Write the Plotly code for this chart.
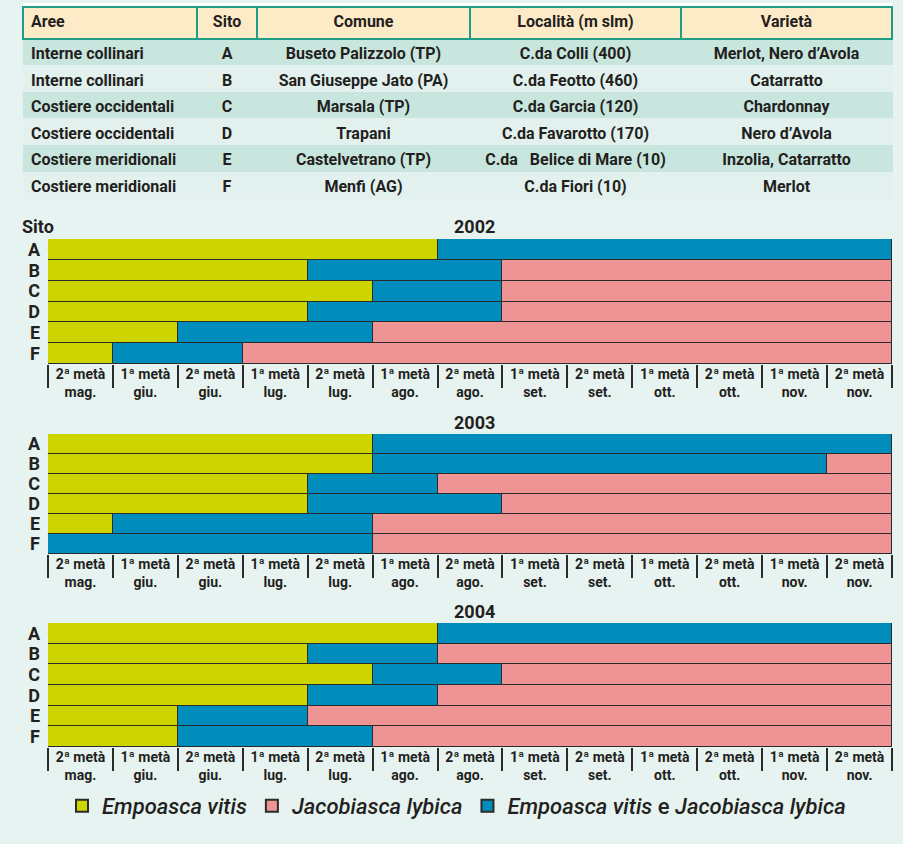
import plotly.graph_objects as go

W, H = 903, 844

# ---------------- table data ----------------
tbl_header = ["Aree", "Sito", "Comune", "Località (m slm)", "Varietà"]
tbl_aree = ["Interne collinari", "Interne collinari", "Costiere occidentali",
            "Costiere occidentali", "Costiere meridionali", "Costiere meridionali"]
tbl_sito = ["A", "B", "C", "D", "E", "F"]
tbl_comune = ["Buseto Palizzolo (TP)", "San Giuseppe Jato (PA)", "Marsala (TP)",
              "Trapani", "Castelvetrano (TP)", "Menfi (AG)"]
tbl_localita = ["C.da Colli (400)", "C.da Feotto (460)", "C.da Garcia (120)",
                "C.da Favarotto (170)", "C.da   Belice di Mare (10)", "C.da Fiori (10)"]
tbl_varieta = ["Merlot, Nero d’Avola", "Catarratto", "Chardonnay",
               "Nero d’Avola", "Inzolia, Catarratto", "Merlot"]

# ---------------- chart data ----------------
sites = ["A", "B", "C", "D", "E", "F"]
period_labels = ["2ª metà<br>mag.", "1ª metà<br>giu.", "2ª metà<br>giu.",
                 "1ª metà<br>lug.", "2ª metà<br>lug.", "1ª metà<br>ago.",
                 "2ª metà<br>ago.", "1ª metà<br>set.", "2ª metà<br>set.",
                 "1ª metà<br>ott.", "2ª metà<br>ott.", "1ª metà<br>nov.",
                 "2ª metà<br>nov."]
years = ["2002", "2003", "2004"]
# durations (in half-month periods) of each phase, sites A..F
green_2002 = [6, 4, 5, 4, 2, 1]
blue_2002 = [7, 3, 2, 3, 3, 2]
pink_2002 = [0, 6, 6, 6, 8, 10]
green_2003 = [5, 5, 4, 4, 1, 0]
blue_2003 = [8, 7, 2, 3, 4, 5]
pink_2003 = [0, 1, 7, 6, 8, 8]
green_2004 = [6, 4, 5, 4, 2, 2]
blue_2004 = [7, 2, 2, 2, 2, 3]
pink_2004 = [0, 7, 6, 7, 9, 8]

series_names = ["<i>Empoasca vitis</i>", "<i>Jacobiasca lybica</i>",
                "<i>Empoasca vitis</i> e <i>Jacobiasca lybica</i>"]

GREEN, PINK, BLUE = "#CCD500", "#EF9494", "#008DBB"
BG = "#E6F3F0"
DARK = "#231F20"
FONT = "Roboto"

fig = go.Figure()

# ---------------- table ----------------
row_fills = ["#C8E6DE", "#E2F1EE"] * 3
fig.add_trace(go.Table(
    domain=dict(x=[23 / W, 892 / W], y=[1 - 204 / H, 1 - 7 / H]),
    columnwidth=[174, 60, 213, 211, 211],
    header=dict(values=tbl_header,
                fill_color="#FDEBC8",
                line=dict(color="#1E9C86", width=2),
                align=["left", "center", "center", "center", "center"],
                font=dict(family=FONT, size=16, color=DARK, weight="bold"),
                height=32),
    cells=dict(values=[tbl_aree, tbl_sito, tbl_comune, tbl_localita, tbl_varieta],
               fill_color=[row_fills] * 5,
               line=dict(color=[row_fills] * 5, width=1),
               align=["left", "center", "center", "center", "center"],
               font=dict(family=FONT, size=16, color=DARK, weight="bold"),
               height=26.6),
))

# ---------------- bars ----------------
data = {
    "2002": (green_2002, blue_2002, pink_2002),
    "2003": (green_2003, blue_2003, pink_2003),
    "2004": (green_2004, blue_2004, pink_2004),
}
domains_px = {"2002": (239, 364), "2003": (434, 554), "2004": (623, 747)}
colors = [GREEN, BLUE, PINK]
legend_rank = [1, 3, 2]

for i, yr in enumerate(years):
    ax = "" if i == 0 else str(i + 1)
    for k, vals in enumerate(data[yr]):
        name = series_names[[0, 2, 1][k]]
        fig.add_trace(go.Bar(
            y=sites, x=[v if v > 0 else None for v in vals],
            orientation="h", name=name,
            marker=dict(color=colors[k], line=dict(color="#2B2B2B", width=1.5)),
            xaxis="x" + ax, yaxis="y" + ax,
            showlegend=(i == 0), legendrank=legend_rank[k],
            hoverinfo="skip",
        ))
    top, bot = domains_px[yr]
    fig.layout["xaxis" + ax] = dict(
        domain=[48 / W, 892 / W], range=[0, 13], anchor="y" + ax,
        tickmode="array", tickvals=[j + 0.5 for j in range(13)],
        ticktext=period_labels, ticks="", showgrid=False, zeroline=False,
        showline=False, fixedrange=True, automargin=False,
        tickfont=dict(family=FONT, size=14, color=DARK, weight="bold"),
        minor=dict(tickmode="array", tickvals=list(range(14)), ticks="outside",
                   ticklen=23, tickwidth=1.5, tickcolor="#2B2B2B", showgrid=False),
    )
    fig.layout["yaxis" + ax] = dict(
        domain=[1 - bot / H, 1 - top / H], anchor="x" + ax,
        categoryorder="array", categoryarray=sites, autorange="reversed",
        tickmode="array", tickvals=sites, ticktext=sites,
        showgrid=False, zeroline=False, showline=False, ticks="",
        ticklabelstandoff=7, fixedrange=True, automargin=False,
        tickfont=dict(family=FONT, size=18, color=DARK, weight="bold"),
    )
    fig.add_annotation(text=yr, xref="paper", yref="paper",
                       x=474 / W, y=1 - (top - 12) / H, showarrow=False,
                       xanchor="center", yanchor="middle",
                       font=dict(family=FONT, size=18, color=DARK, weight="bold"))

fig.add_annotation(text="Sito", xref="paper", yref="paper", x=20 / W,
                   y=1 - 227 / H, xanchor="left", yanchor="middle", showarrow=False,
                   font=dict(family=FONT, size=18, color=DARK, weight="bold"))

fig.add_shape(type="rect", xref="paper", yref="paper", x0=23 / W, x1=892 / W,
              y0=1 - 8 / H, y1=1 - 3 / H, fillcolor="white", line_width=0,
              layer="below")

fig.update_layout(
    width=W, height=H, margin=dict(l=0, r=0, t=0, b=0),
    paper_bgcolor=BG, plot_bgcolor=BG,
    barmode="stack", bargap=0,
    legend=dict(orientation="h", x=62 / W, y=1 - 806 / H, yanchor="middle",
                xanchor="left", bgcolor="rgba(0,0,0,0)",
                font=dict(family=FONT, size=22, color=DARK, weight=500),
                itemsizing="constant", traceorder="normal", itemwidth=30),
    showlegend=True,
)

fig.write_html("out.html", config={"displayModeBar": False},
               post_script="document.body.style.margin='0';document.body.style.background='%s';" % BG)
